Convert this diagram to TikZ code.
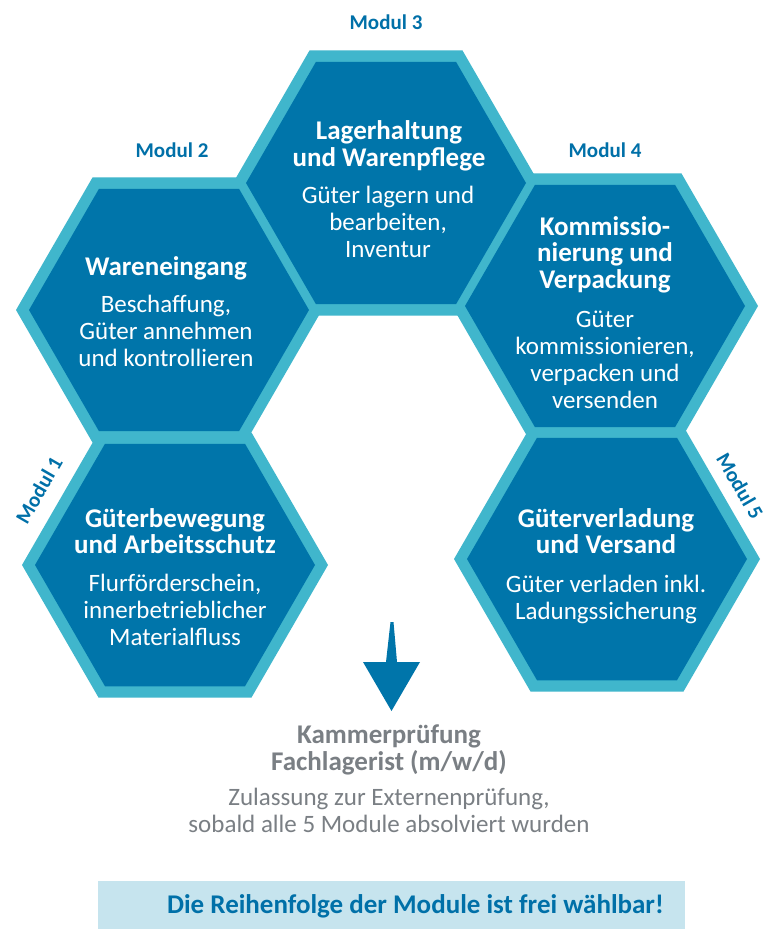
\documentclass[tikz,border=0pt]{standalone}
\usepackage{fontspec}
\setmainfont{Carlito}
\usetikzlibrary{calc}
\definecolor{hexdark}{RGB}{0,117,170}
\definecolor{hexlight}{RGB}{64,182,204}
\definecolor{bannerbg}{RGB}{198,228,238}
\definecolor{modblue}{RGB}{0,112,168}
\definecolor{txtgray}{RGB}{122,127,132}
\newcommand{\ttlfont}{\fontsize{27}{27}\selectfont\bfseries}
\newcommand{\bdyfont}{\fontsize{25}{27}\selectfont}
\newcommand{\blk}[3]{\vtop{\baselineskip=#2\lineskiplimit=-40pt\lineskip=0pt\halign{\hfil#1##\hfil\cr#3\crcr}}}
\newcommand{\drawhex}[4]{\path[#1,shift={(#2,#3)}] (0:#4) -- (60:#4) -- (120:#4) -- (180:#4) -- (240:#4) -- (300:#4) -- cycle;}
\tikzset{
  hexout/.style={fill=hexlight},
  hexin/.style={fill=hexdark},
  htext/.style={anchor=base, inner sep=0pt, text=white},
  gtext/.style={anchor=base, inner sep=0pt, text=txtgray},
  modlab/.style={anchor=base, inner sep=0pt, text=modblue, font=\fontsize{21}{21}\selectfont\bfseries},
}
\begin{document}
\begin{tikzpicture}[x=1pt,y=-1pt]
\useasboundingbox[fill=white] (0,0) rectangle (780,952);
% light outer hexagons
\drawhex{hexout}{175}{565}{153}
\drawhex{hexout}{169}{310}{153}
\drawhex{hexout}{386}{183}{153}
\drawhex{hexout}{605}{306}{153}
\drawhex{hexout}{607}{559}{153}
% dark inner hexagons
\drawhex{hexin}{175}{565}{140}
\drawhex{hexin}{169}{310}{140}
\drawhex{hexin}{386}{183}{140}
\drawhex{hexin}{605}{306}{140}
\drawhex{hexin}{607}{559}{140}
% module labels
\node[modlab] (m2) at (172,158) {Modul 2};
\node[modlab] (m3) at (386,30) {Modul 3};
\node[modlab] (m4) at (605,158) {Modul 4};
\node[modlab, anchor=center, rotate=60] (m1) at (39,490) {Modul 1};
\node[modlab, anchor=center, rotate=-60] (m5) at (740,486) {Modul 5};
% hexagon texts
\node[htext] (t3) at (389,140) {\blk{\ttlfont}{26.5pt}{Lagerhaltung\cr und Warenpflege}};
\node[htext] (b3) at (388,204) {\blk{\bdyfont}{27pt}{Güter lagern und\cr bearbeiten,\cr Inventur}};
\node[htext] (t2) at (166,275) {\blk{\ttlfont}{26.5pt}{Wareneingang}};
\node[htext] (b2) at (166,312) {\blk{\bdyfont}{27pt}{Beschaffung,\cr Güter annehmen\cr und kontrollieren}};
\node[htext] (t4) at (605,235) {\blk{\ttlfont}{26.5pt}{Kommissio-\cr nierung und\cr Verpackung}};
\node[htext] (b4) at (605,327) {\blk{\bdyfont}{27pt}{Güter\cr kommissionieren,\cr verpacken und\cr versenden}};
\node[htext] (t1) at (175,527) {\blk{\ttlfont}{26.5pt}{Güterbewegung\cr und Arbeitsschutz}};
\node[htext] (b1) at (175,591) {\blk{\bdyfont}{27pt}{Flurförderschein,\cr innerbetrieblicher\cr Materialfluss}};
\node[htext] (t5) at (606,527) {\blk{\ttlfont}{26.5pt}{Güterverladung\cr und Versand}};
\node[htext] (b5) at (606,592) {\blk{\bdyfont}{27pt}{Güter verladen inkl.\cr Ladungssicherung}};
% arrow
\coordinate (atl) at (390.5,622);
\coordinate (atr) at (393.5,622);
\coordinate (asr) at (397,662);
\coordinate (ahr) at (420,662);
\coordinate (atip) at (391.5,711);
\coordinate (ahl) at (363,662);
\coordinate (asl) at (386,662);
\fill[hexdark] (atl) -- (atr) -- (asr) -- (ahr) -- (atip) -- (ahl) -- (asl) -- cycle;
% exam text
\node[gtext] (exam) at (389,743) {\blk{\ttlfont}{27pt}{Kammerprüfung\cr Fachlagerist (m/w/d)}};
\node[gtext] (cond) at (389,805) {\blk{\bdyfont}{27pt}{Zulassung zur Externenprüfung,\cr sobald alle 5 Module absolviert wurden}};
% banner
\fill[bannerbg] (98,881) rectangle (685,929);
\node[anchor=base east, inner sep=0pt, text=modblue, font=\ttlfont] (ban) at (664,913) {Die Reihenfolge der Module ist frei wählbar!};
\end{tikzpicture}
\end{document}
